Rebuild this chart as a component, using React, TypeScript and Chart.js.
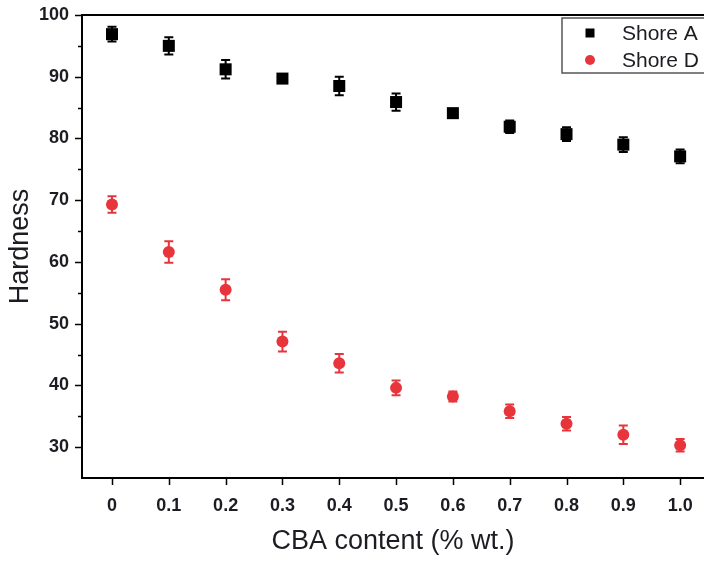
import React, { useEffect, useRef } from "react";
import { Chart, registerables } from "chart.js";
Chart.register(...registerables);

const xValues = [0, 0.1, 0.2, 0.3, 0.4, 0.5, 0.6, 0.7, 0.8, 0.9, 1.0];
const xTickLabels = ["0", "0.1", "0.2", "0.3", "0.4", "0.5", "0.6", "0.7", "0.8", "0.9", "1.0"];
const yMajorTicks = [30, 40, 50, 60, 70, 80, 90, 100];
const yMinorTicks = [35, 45, 55, 65, 75, 85, 95];
const shoreA = [96.9, 95.0, 91.2, 89.7, 88.5, 85.9, 84.1, 81.9, 80.7, 79.0, 77.1];
const shoreAErr = [1.2, 1.4, 1.5, 0.5, 1.5, 1.4, 0.5, 1.0, 1.1, 1.2, 1.1];
const shoreD = [69.3, 61.6, 55.5, 47.1, 43.6, 39.6, 38.2, 35.8, 33.8, 32.0, 30.3];
const shoreDErr = [1.35, 1.75, 1.7, 1.6, 1.5, 1.2, 0.8, 1.1, 1.1, 1.5, 1.0];
const seriesLabels = ["Shore A", "Shore D"];
const errors = [shoreAErr, shoreDErr];

const RED = "#e8353c";
const TEXT = "#1c1c22";
const FONT = "'Liberation Sans', Arial, sans-serif";

const decorPlugin = {
  id: "decor",
  beforeDatasetsDraw(chart: any) {
    const ctx = chart.ctx;
    const xs = chart.scales.x;
    const ys = chart.scales.y;
    ctx.save();
    chart.data.datasets.forEach((ds: any, di: number) => {
      const err = errors[di];
      ctx.strokeStyle = ds.borderColor;
      ctx.lineWidth = 2;
      ds.data.forEach((p: any, i: number) => {
        const px = xs.getPixelForValue(p.x);
        const top = ys.getPixelForValue(p.y + err[i]);
        const bot = ys.getPixelForValue(p.y - err[i]);
        ctx.beginPath();
        ctx.moveTo(px, top);
        ctx.lineTo(px, bot);
        ctx.moveTo(px - 4.5, top);
        ctx.lineTo(px + 4.5, top);
        ctx.moveTo(px - 4.5, bot);
        ctx.lineTo(px + 4.5, bot);
        ctx.stroke();
      });
    });
    ctx.restore();
  },
  afterDraw(chart: any) {
    const ctx = chart.ctx;
    const xs = chart.scales.x;
    const ys = chart.scales.y;
    const area = chart.chartArea;
    ctx.save();
    ctx.strokeStyle = "#000";
    ctx.lineWidth = 2;
    // top frame
    ctx.beginPath();
    ctx.moveTo(area.left - 1, area.top);
    ctx.lineTo(area.right + 2, area.top);
    ctx.stroke();
    // tick marks
    ctx.lineWidth = 1.5;
    ctx.beginPath();
    yMajorTicks.forEach((v) => {
      const y = Math.round(ys.getPixelForValue(v)) + 0.5;
      ctx.moveTo(area.left - 7, y);
      ctx.lineTo(area.left, y);
    });
    yMinorTicks.forEach((v) => {
      const y = Math.round(ys.getPixelForValue(v)) + 0.5;
      ctx.moveTo(area.left - 4, y);
      ctx.lineTo(area.left, y);
    });
    xValues.forEach((v) => {
      const x = Math.round(xs.getPixelForValue(v)) + 0.5;
      ctx.moveTo(x, area.bottom);
      ctx.lineTo(x, area.bottom + 7);
    });
    ctx.stroke();

    // legend
    const bx = 562, by = 18, bw = 150, bh = 55;
    ctx.strokeStyle = "#555";
    ctx.lineWidth = 1.5;
    ctx.strokeRect(bx, by, bw, bh);
    const rows = [33, 60];
    chart.data.datasets.forEach((ds: any, di: number) => {
      const cy = rows[di];
      ctx.fillStyle = ds.backgroundColor;
      if (ds.pointStyle === "rect") {
        ctx.fillRect(590 - 4.5, cy - 4.5, 9, 9);
      } else {
        ctx.beginPath();
        ctx.arc(590, cy, 5, 0, Math.PI * 2);
        ctx.fill();
      }
      ctx.fillStyle = TEXT;
      ctx.font = `21px ${FONT}`;
      ctx.textBaseline = "middle";
      ctx.textAlign = "left";
      ctx.fillText(seriesLabels[di], 622, cy + 1);
    });
    ctx.restore();
  },
};

export default function App() {
  const ref = useRef<HTMLCanvasElement | null>(null);
  useEffect(() => {
    if (!ref.current) return;
    const chart = new Chart(ref.current, {
      type: "scatter",
      data: {
        datasets: [
          {
            label: seriesLabels[0],
            data: xValues.map((x, i) => ({ x, y: shoreA[i] })),
            pointStyle: "rect",
            pointRadius: 8.5,
            backgroundColor: "#000",
            borderColor: "#000",
            borderWidth: 0,
          },
          {
            label: seriesLabels[1],
            data: xValues.map((x, i) => ({ x, y: shoreD[i] })),
            pointStyle: "circle",
            pointRadius: 6,
            backgroundColor: RED,
            borderColor: RED,
            borderWidth: 0,
          },
        ],
      },
      options: {
        responsive: false,
        animation: false,
        layout: { autoPadding: false, padding: { top: 15, right: 0, left: 0, bottom: 0 } },
        plugins: { legend: { display: false }, tooltip: { enabled: false } },
        scales: {
          x: {
            type: "linear",
            min: -0.0528,
            max: 1.042,
            afterBuildTicks: (scale: any) => {
              scale.ticks = xValues.map((v) => ({ value: v }));
            },
            afterFit: (scale: any) => {
              scale.height = 83;
              scale.paddingLeft = 0;
              scale.paddingRight = 0;
            },
            ticks: {
              callback: (_v: any, i: number) => xTickLabels[i],
              font: { size: 18, family: FONT, weight: "bold" },
              color: TEXT,
              padding: 10,
              maxRotation: 0,
              autoSkip: false,
            },
            grid: { display: false, drawTicks: true, tickLength: 7 },
            border: { display: true, color: "#000", width: 2 },
            title: {
              display: true,
              text: "CBA content (% wt.)",
              font: { size: 27, family: FONT },
              color: TEXT,
              padding: { top: 0, bottom: 3 },
            },
          },
          y: {
            type: "linear",
            min: 25,
            max: 100,
            afterBuildTicks: (scale: any) => {
              scale.ticks = yMajorTicks.map((v) => ({ value: v }));
            },
            afterFit: (scale: any) => {
              scale.width = 82;
              scale.paddingTop = 0;
              scale.paddingBottom = 0;
            },
            ticks: {
              callback: (v: any) => String(v),
              font: { size: 18, family: FONT, weight: "bold" },
              color: TEXT,
              padding: 6,
            },
            grid: { display: false, drawTicks: true, tickLength: 7 },
            border: { display: true, color: "#000", width: 2 },
            title: {
              display: true,
              text: "Hardness",
              font: { size: 27, family: FONT },
              color: TEXT,
              padding: { top: 4, bottom: 0 },
            },
          },
        },
      },
      plugins: [decorPlugin],
    } as any);
    return () => chart.destroy();
  }, []);
  return (
    <div style={{ position: "fixed", left: 0, top: 0, width: 704, height: 561, background: "#fff" }}>
      <canvas ref={ref} width={704} height={561} style={{ display: "block", width: 704, height: 561 }} />
    </div>
  );
}
